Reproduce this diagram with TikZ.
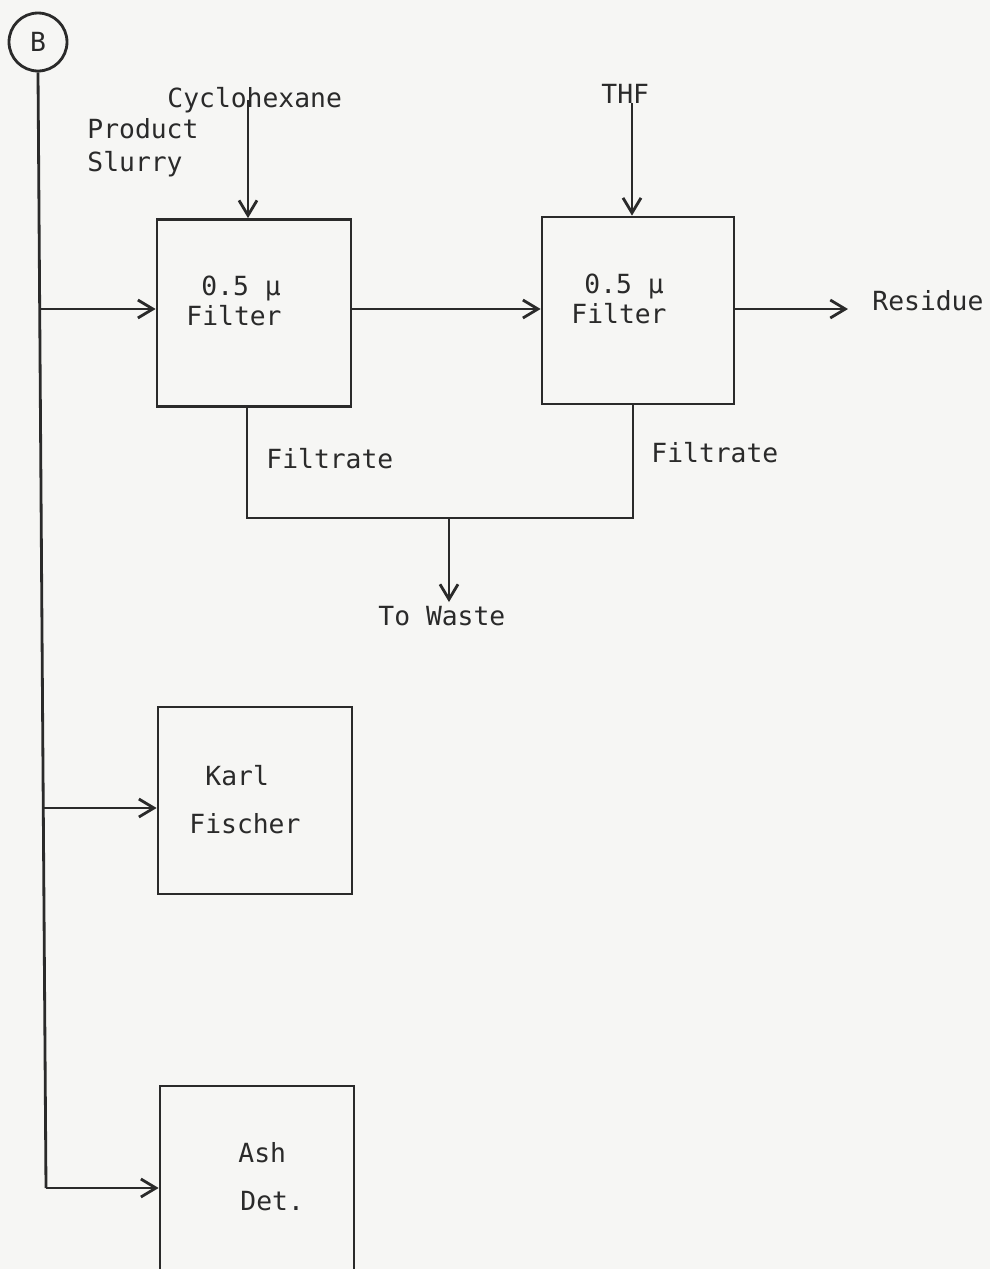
\documentclass[tikz,border=0pt]{standalone}
\usepackage{fontspec}
\setmonofont{DejaVu Sans Mono}
\usetikzlibrary{arrows.meta}
\definecolor{ink}{RGB}{42,42,42}
\definecolor{paper}{RGB}{246,246,244}
\begin{document}
\begin{tikzpicture}[x=0.02cm,y=-0.02cm,
  line width=1.6pt, draw=ink,
  lbl/.style={font=\ttfamily\fontsize{15}{18}\selectfont, text=ink, inner sep=0pt, anchor=base west},
  box/.style={draw=ink, line width=1.6pt, minimum width=3.88cm, minimum height=3.74cm, inner sep=0pt},
  flow/.style={draw=ink, -{Straight Barb[length=0.3cm,width=0.36cm,line width=1.6pt]}},
  pipe/.style={draw=ink}]
\useasboundingbox (0,0) rectangle (990,1269);
\fill[paper] (0,0) rectangle (990,1269);
\clip (0,0) rectangle (990,1269);

% B connector
\node[circle, draw=ink, line width=1.6pt, minimum size=1.16cm, inner sep=0pt,
      font=\ttfamily\fontsize{15}{18}\selectfont, text=ink] (B) at (38,42) {B};

% boxes
\node[box] (f1) at (254,313) {};
\node[box, minimum width=3.84cm] (f2) at (638,310.5) {};
\node[box] (kf) at (255,800.5) {};
\node[box, minimum height=4.28cm] (ash) at (257,1193) {};

% texts
\node[lbl] (cyc) at (166,107) {Cyclohexane};
\node[lbl] (prod) at (86,138) {Product};
\node[lbl] (slur) at (86,171) {Slurry};
\node[lbl] (thf) at (600,103) {THF};
\node[lbl] (f1a) at (200,295) {0.5 μ};
\node[lbl] (f1b) at (185,325) {Filter};
\node[lbl] (f2a) at (583,293) {0.5 μ};
\node[lbl] (f2b) at (570,323) {Filter};
\node[lbl] (res) at (871,310) {Residue};
\node[lbl] (filt1) at (265,468) {Filtrate};
\node[lbl] (filt2) at (650,462) {Filtrate};
\node[lbl] (waste) at (377,625) {To Waste};
\node[lbl] (karl) at (204,785) {Karl};
\node[lbl] (fisch) at (188,833) {Fischer};
\node[lbl] (ashA) at (237,1162) {Ash};
\node[lbl] (ashB) at (239,1210) {Det.};

% coordinates
\coordinate (bend) at (46,1188);
\coordinate (j1) at (39.7,309);
\coordinate (j2) at (43.3,808);
\coordinate (cycs) at (248,100);
\coordinate (thfs) at (632,103);
\coordinate (ff) at (351,309);
\coordinate (rese) at (848,309);
\coordinate (d1) at (247,518);
\coordinate (d2) at (633,518);
\coordinate (wj) at (449,518);
\coordinate (wt) at (449,602);

% main vertical sample line
\draw[pipe] (B.south) -- (bend);
\draw[flow] (bend) -- (bend -| ash.west);
\draw[flow] (j1) -- (j1 -| f1.west);
\draw[flow] (j2) -- (j2 -| kf.west);

% feeds
\draw[flow] (cycs) -- (cycs |- f1.north);
\draw[flow] (thfs) -- (thfs |- f2.north);

% filter to filter, residue
\draw[flow] (ff) -- (ff -| f2.west);
\draw[flow] (ff -| f2.east) -- (rese);

% filtrate manifold
\draw[pipe] (d1 |- f1.south) -- (d1) -- (d2) -- (d2 |- f2.south);
\draw[flow] (wj) -- (wt);
\end{tikzpicture}
\end{document}
